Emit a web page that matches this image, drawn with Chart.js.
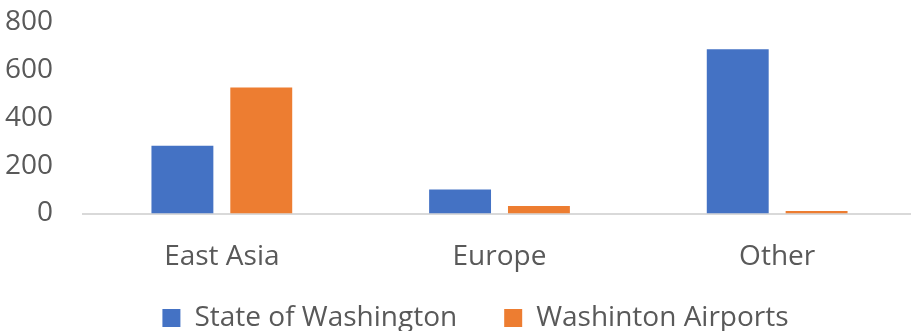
<!DOCTYPE html>
<html>
<head>
<meta charset="utf-8">
<script src="https://cdn.jsdelivr.net/npm/chart.js@4/dist/chart.umd.min.js"></script>
<style>
  html, body { margin: 0; padding: 0; background: #fff; }
  #wrap { width: 911px; height: 331px; position: relative; }
</style>
</head>
<body>
<div id="wrap"><canvas id="c"></canvas></div>
<script>
const regions = ['East Asia', 'Europe', 'Other'];
const stateOfWashington = [284, 101, 688];
const washintonAirports = [528, 31, 10];
const yTicks = [0, 200, 400, 600, 800];

const textColor = '#595959';
const fontFamily = "'Open Sans', 'Liberation Sans', sans-serif";

// Final placement tweaks: the category axis runs slightly past the right edge,
// its labels get room below the axis box, and the legend row is nudged.
const placement = {
  id: 'placement',
  afterLayout(chart) {
    const x = chart.scales.x;
    x.right = 916;
    x.width = x.right - x.left;
    x.configure();
    x.bottom = x.top + 70;
    x.height = 70;
    const lg = chart.legend;
    if (lg) {
      const dy = 11, dx = 20;
      lg.top += dy; lg.bottom += dy;
      lg.left += dx; lg.right += dx;
    }
  }
};

new Chart(document.getElementById('c'), {
  type: 'bar',
  data: {
    labels: regions,
    datasets: [
      { label: 'State of Washington', data: stateOfWashington, backgroundColor: '#4472C4' },
      { label: 'Washinton Airports', data: washintonAirports, backgroundColor: '#ED7D31' }
    ]
  },
  plugins: [placement],
  options: {
    responsive: true,
    maintainAspectRatio: false,
    animation: false,
    categoryPercentage: 0.568,
    barPercentage: 0.785,
    layout: { padding: { top: 0, right: 0, left: 0, bottom: 0 } },
    plugins: {
      tooltip: { enabled: false },
      legend: {
        position: 'bottom',
        labels: {
          color: textColor,
          font: { family: fontFamily, size: 28 },
          boxWidth: 18,
          boxHeight: 18,
          padding: 47
        }
      }
    },
    scales: {
      x: {
        grid: { display: false, drawTicks: false },
        border: { display: true, color: '#d9d9d9', width: 2 },
        ticks: { color: textColor, font: { family: fontFamily, size: 28 }, padding: 27 },
        afterFit: (axis) => { axis.height = 32.5; }
      },
      y: {
        min: 0,
        max: 800,
        afterBuildTicks: (axis) => { axis.ticks = yTicks.map(v => ({ value: v })); },
        grid: { display: false, drawTicks: false },
        border: { display: false },
        ticks: { color: textColor, font: { family: fontFamily, size: 28 }, padding: 30 },
        afterFit: (axis) => {
          axis.width = 83;
          axis.paddingTop = 22.5;
          axis.paddingBottom = 10;
        }
      }
    }
  }
});
</script>
</body>
</html>
